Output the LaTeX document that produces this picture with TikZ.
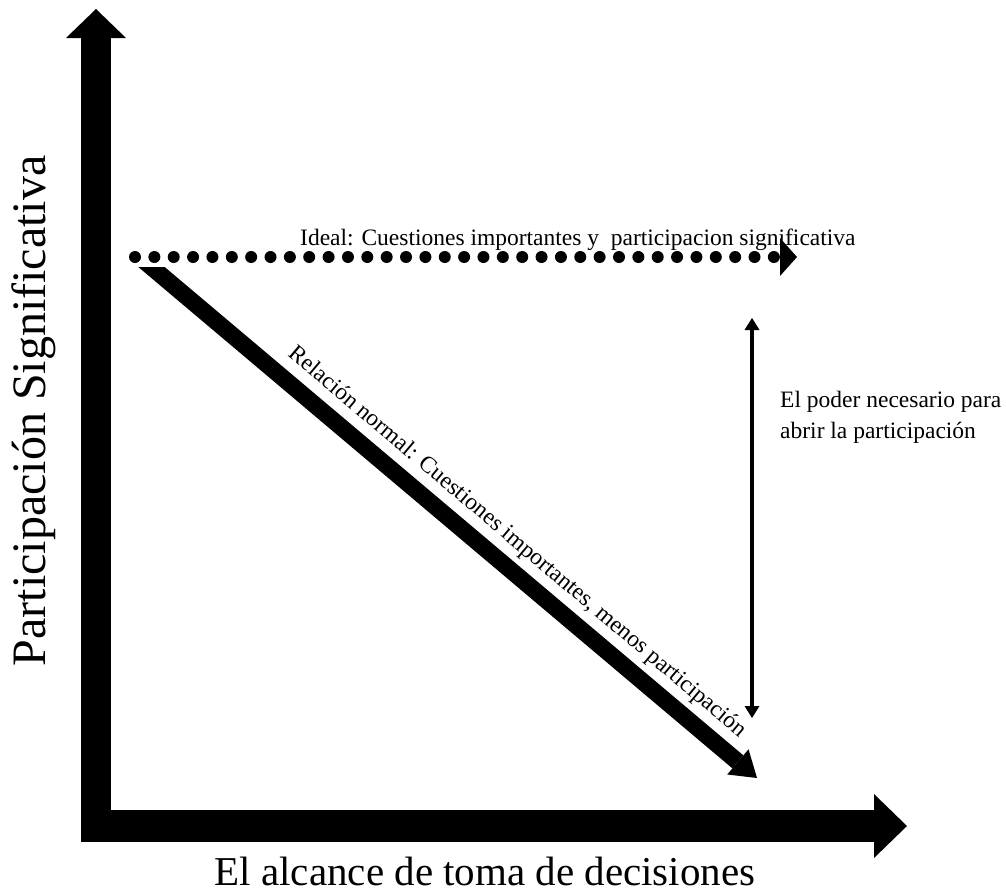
\documentclass[tikz,border=0pt]{standalone}
\usepackage{fontspec}
\setmainfont{Liberation Serif}
\usetikzlibrary{arrows.meta}
\begin{document}
\begin{tikzpicture}[x=1pt,y=-1pt,
  axisv/.style={line width=30pt, -{Triangle[width=60pt,length=29pt,line width=0pt]}},
  axish/.style={line width=32pt, -{Triangle[width=64pt,length=33pt,line width=0pt]}},
  dotline/.style={line width=12pt, line cap=round, dash pattern=on 0pt off 19.36pt,
    -{Triangle[width=38pt,length=17pt,line width=0pt]}},
  diagline/.style={line width=17pt, -{Triangle[width=33pt,length=25pt,line width=0pt]}},
  powline/.style={line width=4.5pt, {Triangle[width=15pt,length=12pt,line width=0pt]}-{Triangle[width=15pt,length=12pt,line width=0pt]}},
  small/.style={font=\fontsize{23.5}{28}\selectfont, inner sep=0pt},
  bigx/.style={font=\fontsize{41}{48}\selectfont, inner sep=0pt},
  bigy/.style={font=\fontsize{48}{54}\selectfont, inner sep=0pt}]
\useasboundingbox (0,0) rectangle (1006,892);
\coordinate (yBase) at (96,842);
\coordinate (yTip) at (96,9);
\coordinate (xBase) at (81,826);
\coordinate (xTip) at (907,826);
\coordinate (dotStart) at (135,257);
\coordinate (dotTip) at (797,257);
\coordinate (diagStart) at (140,257.3);
\coordinate (diagTip) at (757,778);
\coordinate (powTop) at (752,318);
\coordinate (powBot) at (752,718);
% axes
\draw[axisv] (yBase) -- (yTip);
\draw[axish] (xBase) -- (xTip);
% ideal dotted arrow
\draw[dotline] (dotStart) -- (dotTip);
% diagonal relation arrow
\begin{scope}
  \clip (0,267) rectangle (1006,892);
  \draw[diagline] (diagStart) -- (diagTip);
\end{scope}
% power arrow
\draw[powline] (powTop) -- (powBot);
% labels
\node[bigy, rotate=90, anchor=base] (ylabel) at (45,411) {Participación Significativa};
\node[bigx, anchor=base] (xlabel) at (485,885) {El alcance de toma de decisiones};
\node[small, anchor=base west] (ideal) at (300,245) {Ideal: Cuestiones importantes y\ \ participacion significativa};
\node[small, anchor=base, rotate=-40.2] (relacion) at (513.3,546.7) {Relación normal: Cuestiones importantes, menos participación};
\node[small, anchor=base west] (poder1) at (780,407) {El poder necesario para};
\node[small, anchor=base west] (poder2) at (780,438) {abrir la participación};
\end{tikzpicture}
\end{document}
